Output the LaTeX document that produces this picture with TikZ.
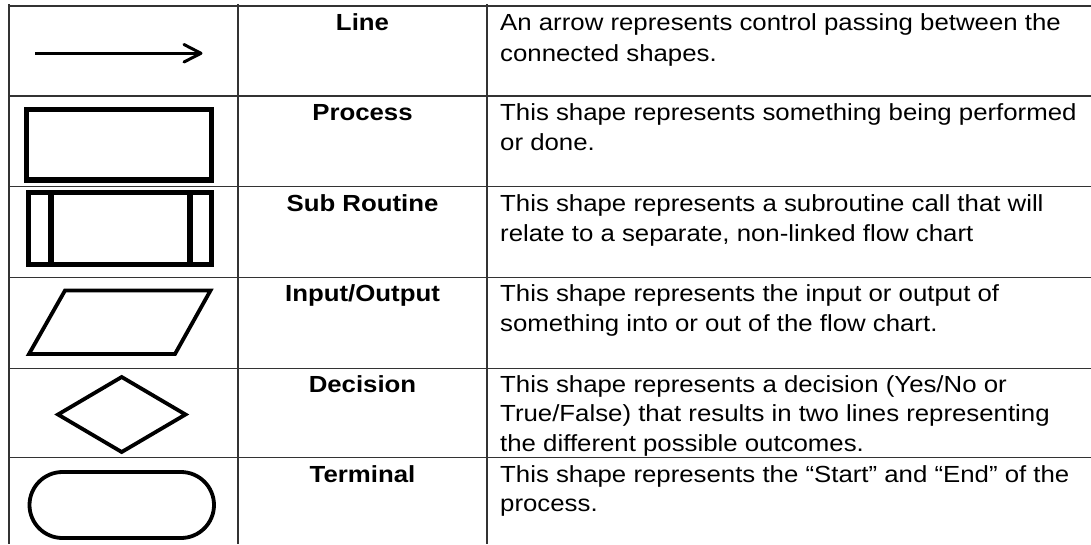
\documentclass[tikz,border=0pt]{standalone}
\usepackage{fontspec}
\newfontfamily\tabfont[FakeStretch=1.107]{Liberation Sans}
\begin{document}
\begin{tikzpicture}[x=1pt,y=-1pt,
  grid/.style={line width=1.4pt, draw=black!80},
  heavy/.style={line width=5.5pt, draw=black},
  medium/.style={line width=3.8pt, draw=black, line join=miter},
  label/.style={anchor=base, inner sep=0pt, font={\tabfont\bfseries\fontsize{23.3}{30}\selectfont}},
  desc/.style={anchor=base west, inner sep=0pt, font={\tabfont\fontsize{23.3}{30}\selectfont}}]
\useasboundingbox (0,0) rectangle (1091,544);
\fill[white] (0,0) rectangle (1091,544);
% table grid
\foreach \yy in {6,96,186.7,277.7,368.3,457.7}
  \draw[grid] (9,\yy) -- (1091,\yy);
\foreach \xx in {9,238,487}
  \draw[grid] (\xx,4) -- (\xx,544);
% Line symbol
\coordinate (as) at (35,53.3);
\coordinate (ae) at (201,53.3);
\draw[line width=3pt] (as) -- (ae);
\draw[line width=3pt, line cap=round, line join=round] (184,44.5) -- (ae) -- (184,62);
% Process symbol
\draw[heavy] (26.7,109.7) rectangle (211.5,180);
% Sub routine symbol
\draw[heavy] (28.5,192.5) rectangle (211.5,264.5);
\draw[line width=5.5pt] (51,192.5) -- (51,264.5);
\draw[line width=5.5pt] (190,192.5) -- (190,264.5);
% Input/Output symbol
\draw[medium] (65,290.5) -- (210.5,290.5) -- (175,354) -- (29,354) -- cycle;
% Decision symbol
\draw[medium] (121.7,377) -- (185.5,414.5) -- (121.7,452) -- (58,414.5) -- cycle;
% Terminal symbol
\draw[medium, rounded corners=33pt] (29.5,472) rectangle (214,538);
% labels
\node[label] (l1) at (362.5,30.7) {Line};
\node[label] (l2) at (362.5,120.7) {Process};
\node[label] (l3) at (362.5,211) {Sub Routine};
\node[label] (l4) at (362.5,301) {Input/Output};
\node[label] (l5) at (362.5,392) {Decision};
\node[label] (l6) at (362.5,482) {Terminal};
% descriptions
\node[desc] (d1a) at (500,30.7) {An arrow represents control passing between the};
\node[desc] (d1b) at (500,61) {connected shapes.};
\node[desc] (d2a) at (500,120.7) {This shape represents something being performed};
\node[desc] (d2b) at (500,150.7) {or done.};
\node[desc] (d3a) at (500,211) {This shape represents a subroutine call that will};
\node[desc] (d3b) at (500,241) {relate to a separate, non-linked flow chart};
\node[desc] (d4a) at (500,301) {This shape represents the input or output of};
\node[desc] (d4b) at (500,331) {something into or out of the flow chart.};
\node[desc] (d5a) at (500,392) {This shape represents a decision (Yes/No or};
\node[desc] (d5b) at (500,421.5) {True/False) that results in two lines representing};
\node[desc] (d5c) at (500,451) {the different possible outcomes.};
\node[desc] (d6a) at (500,482) {This shape represents the “Start” and “End” of the};
\node[desc] (d6b) at (500,511.5) {process.};
\end{tikzpicture}
\end{document}
